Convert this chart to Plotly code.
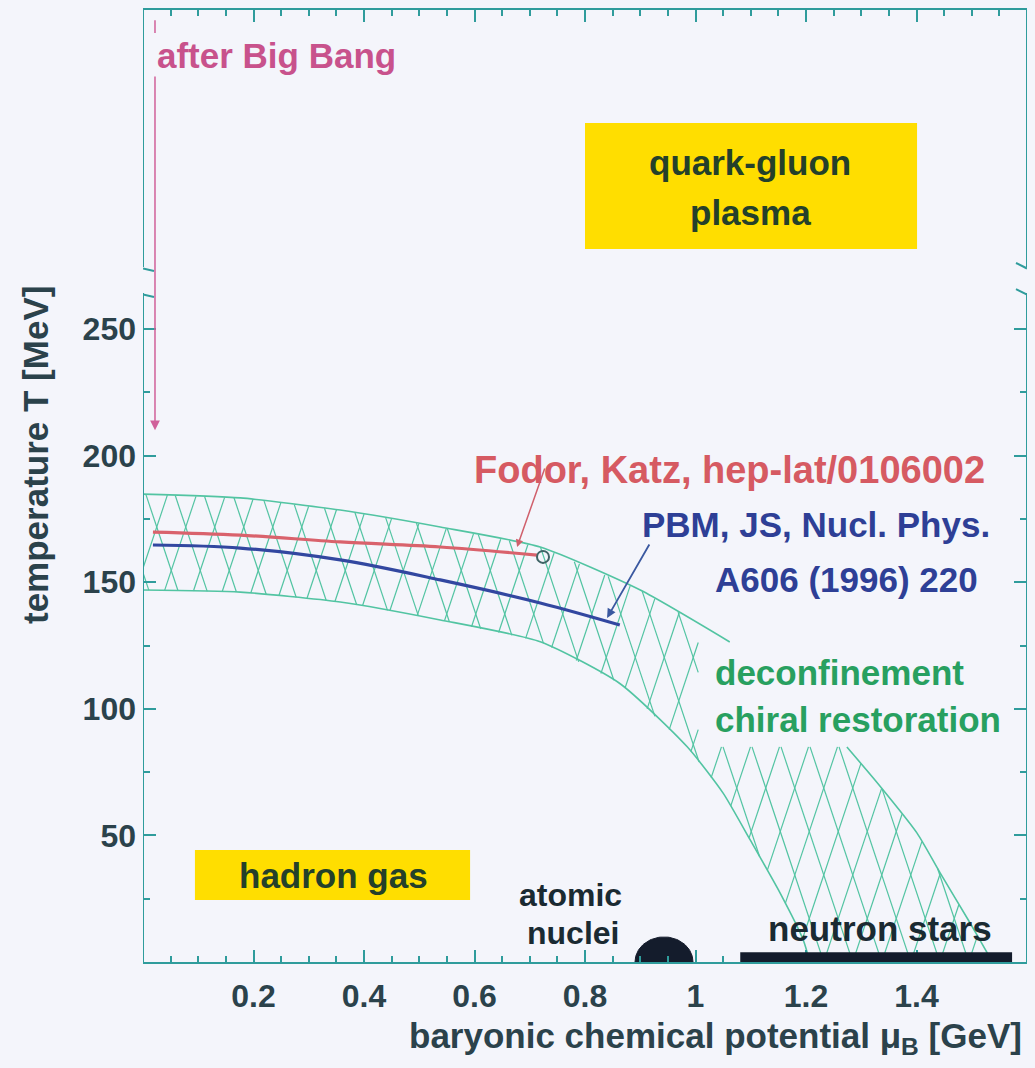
import numpy as np
import plotly.graph_objects as go

# ---------------- data ----------------
x_tickvals = [0.2, 0.4, 0.6, 0.8, 1.0, 1.2, 1.4]
x_ticktext = ["0.2", "0.4", "0.6", "0.8", "1", "1.2", "1.4"]
y_tickvals = [50, 100, 150, 200, 250]
y_ticktext = ["50", "100", "150", "200", "250"]
y_minorvals = [25, 75, 125, 175, 225]

# phase-boundary band (deconfinement / chiral restoration)
band_upper_mu = [0.0, 0.176, 0.357, 0.538, 0.719, 0.90, 1.062, 1.274, 1.330, 1.401, 1.443, 1.497, 1.528, 1.537]
band_upper_T = [184.8, 183.3, 178.5, 171.8, 163.9, 146.9, 126.4, 84.9, 70.5, 50.9, 35.1, 15.4, 3.6, 0.0]
band_lower_mu = [0.0, 0.176, 0.357, 0.538, 0.719, 0.863, 0.985, 1.050, 1.099, 1.153, 1.195, 1.207]
band_lower_T = [146.9, 146.1, 142.2, 135.1, 126.5, 110.0, 85.0, 66.7, 48.2, 27.3, 8.7, 0.0]
band_gap_mu = 1.005      # hatch of upper part ends here
band_gap_T = 85.0        # hatch of lower part starts here
band_upper_end_mu = 1.062

# Fodor & Katz lattice line
fodor_mu = [0.018, 0.176, 0.357, 0.538, 0.713]
fodor_T = [169.8, 168.6, 165.9, 163.9, 160.7]
fodor_end_mu = [0.724]
fodor_end_T = [160.0]

# PBM, JS freeze-out line
pbm_mu = [0.018, 0.176, 0.357, 0.538, 0.719, 0.863]
pbm_T = [164.7, 163.5, 158.8, 150.9, 141.8, 133.1]

# atomic nuclei / neutron stars
nuclei_mu = 0.943
nuclei_halfwidth = 0.0525
nuclei_height = 9.9
neutron_mu = [1.081, 1.573]
neutron_T = [0.0, 3.9]

# region boxes
qgp_box_mu = [0.80, 1.401]
qgp_box_T = [281.6, 331.4]
hadron_box_mu = [0.094, 0.592]
hadron_box_T = [24.5, 44.2]

x_range = [0, 1.6]
y_range = [0, 376]
y_break = [264.2, 274.5]

# ---------------- styles ----------------
W, H = 1035, 1068
ML, MR, MT, MB = 143, 8, 10, 106
PW, PH = W - ML - MR, H - MT - MB
mu_per_px = (x_range[1] - x_range[0]) / PW
T_per_px = (y_range[1] - y_range[0]) / PH

BG = "#f4f5fb"
AX = "#2f9c9c"
TXT = "#2b424b"
HATCH = "#52c4a2"
FONT = "Liberation Sans, Arial, sans-serif"

fig = go.Figure()

# ---- hatch of the band ----
def inside(mu, T):
    u = np.interp(mu, band_upper_mu, band_upper_T)
    u = np.where(mu <= band_upper_mu[-1], u, -1.0)
    l = np.interp(mu, band_lower_mu, band_lower_T)
    l = np.where(mu <= band_lower_mu[-1], l, 0.0)
    ok = (T <= u) & (T >= l) & (mu >= 0) & (T >= 0)
    ok &= ~((mu > band_gap_mu) & (T > band_gap_T))
    return ok

slope = 3.0 * T_per_px / mu_per_px   # a 3:1 slope in pixels, in data units
spacing = 29 * mu_per_px
Ts = np.linspace(0, 195, 2500)
hx, hy = [], []
for sgn in (1, -1):
    for c in np.arange(-0.5, 2.1, spacing):
        mus = c + sgn * Ts / slope
        ok = inside(mus, Ts)
        idx = np.flatnonzero(np.diff(np.r_[0, ok.astype(int), 0]))
        for a, b in zip(idx[::2], idx[1::2]):
            hx += [mus[a], mus[b - 1], None]
            hy += [Ts[a], Ts[b - 1], None]
fig.add_trace(go.Scatter(x=hx, y=hy, mode="lines", line=dict(color=HATCH, width=1.2),
                         hoverinfo="skip", showlegend=False))

# band edges
um = np.array(band_upper_mu); ut = np.array(band_upper_T)
sel1 = um <= band_upper_end_mu
sel2 = ut <= band_gap_T
for sel in (sel1, sel2):
    fig.add_trace(go.Scatter(x=um[sel], y=ut[sel], mode="lines",
                             line=dict(color=HATCH, width=1.6, shape="spline", smoothing=0.6),
                             hoverinfo="skip", showlegend=False))
fig.add_trace(go.Scatter(x=band_lower_mu, y=band_lower_T, mode="lines",
                         line=dict(color=HATCH, width=1.6, shape="spline", smoothing=0.6),
                         hoverinfo="skip", showlegend=False))

# Fodor line and end point
fig.add_trace(go.Scatter(x=fodor_mu, y=fodor_T, mode="lines",
                         line=dict(color="#d9626c", width=3.2, shape="spline"),
                         showlegend=False))
fig.add_trace(go.Scatter(x=fodor_end_mu, y=fodor_end_T, mode="markers",
                         marker=dict(symbol="circle-open", size=12, color="#3f6466",
                                     line=dict(width=2)), showlegend=False))
# PBM line
fig.add_trace(go.Scatter(x=pbm_mu, y=pbm_T, mode="lines",
                         line=dict(color="#3247a0", width=3.2, shape="spline"),
                         showlegend=False))

# atomic nuclei half-disc
th = np.linspace(0, np.pi, 60)
fig.add_trace(go.Scatter(x=nuclei_mu + nuclei_halfwidth * np.cos(th),
                         y=nuclei_height * np.sin(th), mode="lines", fill="toself",
                         fillcolor="#141c2c", line=dict(color="#141c2c", width=1),
                         showlegend=False, hoverinfo="skip"))

shapes = []
# region boxes
for bm, bt in ((qgp_box_mu, qgp_box_T), (hadron_box_mu, hadron_box_T)):
    shapes.append(dict(type="rect", xref="x", yref="y", x0=bm[0], x1=bm[1], y0=bt[0], y1=bt[1],
                       fillcolor="#ffde00", line=dict(width=0), layer="below"))
# neutron stars bar
shapes.append(dict(type="rect", xref="x", yref="y", x0=neutron_mu[0], x1=neutron_mu[1],
                   y0=neutron_T[0], y1=neutron_T[1], fillcolor="#141c2c", line=dict(width=0)))
# y axis lines with break
for xv in x_range:
    shapes.append(dict(type="line", xref="x", yref="y", x0=xv, x1=xv, y0=y_range[0], y1=y_break[0],
                       line=dict(color=AX, width=2)))
    shapes.append(dict(type="line", xref="x", yref="y", x0=xv, x1=xv, y0=y_break[1], y1=y_range[1],
                       line=dict(color=AX, width=2)))
    d = 1 if xv == x_range[0] else -1
    for yb in y_break:
        shapes.append(dict(type="line", xref="x", yref="y",
                           x0=xv, y0=yb - 1.5 * T_per_px,
                           x1=xv + d * 11 * mu_per_px, y1=yb + (4 if d == 1 else -4) * T_per_px * -1,
                           line=dict(color=AX, width=2)))

annotations = []
def txt(s, x, y, color, size=35, xanchor="center", **kw):
    annotations.append(dict(text="<b>" + s + "</b>", x=x, y=y, xref="x", yref="y",
                            showarrow=False, xanchor=xanchor, yanchor="middle",
                            font=dict(family=FONT, size=size, color=color), **kw))

txt("after Big Bang", 0.0217, 358.2, "#c8528c", xanchor="left")
txt("quark-gluon", 1.099, 315.6, "#24402a")
txt("plasma", 1.099, 296.2, "#24402a")
txt("hadron gas", 0.344, 34.0, "#24402a")
txt("Fodor, Katz, hep-lat/0106002", 0.595, 194.3, "#d65a62", size=38, xanchor="left")
txt("PBM, JS, Nucl. Phys.", 0.90, 172.6, "#2e3f96", xanchor="left")
txt("A606 (1996) 220", 1.032, 150.9, "#2e3f96", xanchor="left")
txt("deconfinement", 1.032, 114.5, "#28a060", xanchor="left")
txt("chiral restoration", 1.032, 95.6, "#28a060", xanchor="left")
txt("atomic", 0.773, 26.5, "#1a2a32", size=32, borderpad=0)
txt("nuclei", 0.778, 11.6, "#1a2a32", size=32, borderpad=0)
txt("neutron stars", 1.334, 13.4, "#1a2a32")

# arrows
def arrow(x0, y0, x1, y1, color, width=1.5, head=1, size=1.0):
    annotations.append(dict(x=x1, y=y1, ax=x0, ay=y0, xref="x", yref="y", axref="x", ayref="y",
                            text="", showarrow=True, arrowhead=head, arrowsize=size,
                            arrowwidth=width, arrowcolor=color))
arrow(0.0217, 350.3, 0.0217, 210.0, "#d0609a", width=1.5, head=2, size=1.3)
arrow(0.728, 195.5, 0.677, 163.9, "#d0606c", width=1.5, head=2, size=1.0)
arrow(0.918, 165.5, 0.840, 135.9, "#3a58a0", width=1.8, head=2, size=1.0)
shapes.append(dict(type="line", xref="x", yref="y", x0=0.0217, x1=0.0217, y0=366.9, y1=372.0,
                   line=dict(color="#d0609a", width=1.5)))

# axis titles
annotations.append(dict(text="<b>baryonic chemical potential μ<sub>B</sub> [GeV]</b>",
                        x=(715 - ML) / PW, y=-(1038 - MT - PH) / PH, xref="paper", yref="paper",
                        showarrow=False, xanchor="center", yanchor="middle",
                        font=dict(family=FONT, size=35, color=TXT)))
annotations.append(dict(text="<b>temperature T [MeV]</b>", textangle=-90,
                        x=(35 - ML) / PW, y=(MT + PH - 455) / PH, xref="paper", yref="paper",
                        showarrow=False, xanchor="center", yanchor="middle",
                        font=dict(family=FONT, size=35, color=TXT)))

fig.update_layout(
    width=W, height=H, autosize=False,
    margin=dict(l=ML, r=MR, t=MT, b=MB, pad=0),
    paper_bgcolor=BG, plot_bgcolor=BG,
    showlegend=False,
    shapes=shapes, annotations=annotations,
    xaxis=dict(range=x_range, tickmode="array", tickvals=x_tickvals, ticktext=x_ticktext,
               ticks="inside", ticklen=12, tickwidth=2, tickcolor=AX,
               showline=True, linecolor=AX, linewidth=2, mirror="ticks",
               showgrid=False, zeroline=False, layer="above traces",
               minor=dict(dtick=0.05, tick0=0, ticks="inside", ticklen=6, tickwidth=1.5, tickcolor=AX),
               ticklabelstandoff=5,
               tickfont=dict(family=FONT, size=32, color=TXT, weight="bold")),
    yaxis=dict(range=y_range, tickmode="array", tickvals=y_tickvals, ticktext=y_ticktext,
               ticks="inside", ticklen=13, tickwidth=2, tickcolor=AX,
               showline=False, mirror="ticks",
               showgrid=False, zeroline=False, layer="above traces",
               minor=dict(tickmode="array", tickvals=y_minorvals, ticks="inside", ticklen=7,
                          tickwidth=1.5, tickcolor=AX),
               ticklabelstandoff=6,
               tickfont=dict(family=FONT, size=32, color=TXT, weight="bold")),
)

fig.write_html("out.html")
